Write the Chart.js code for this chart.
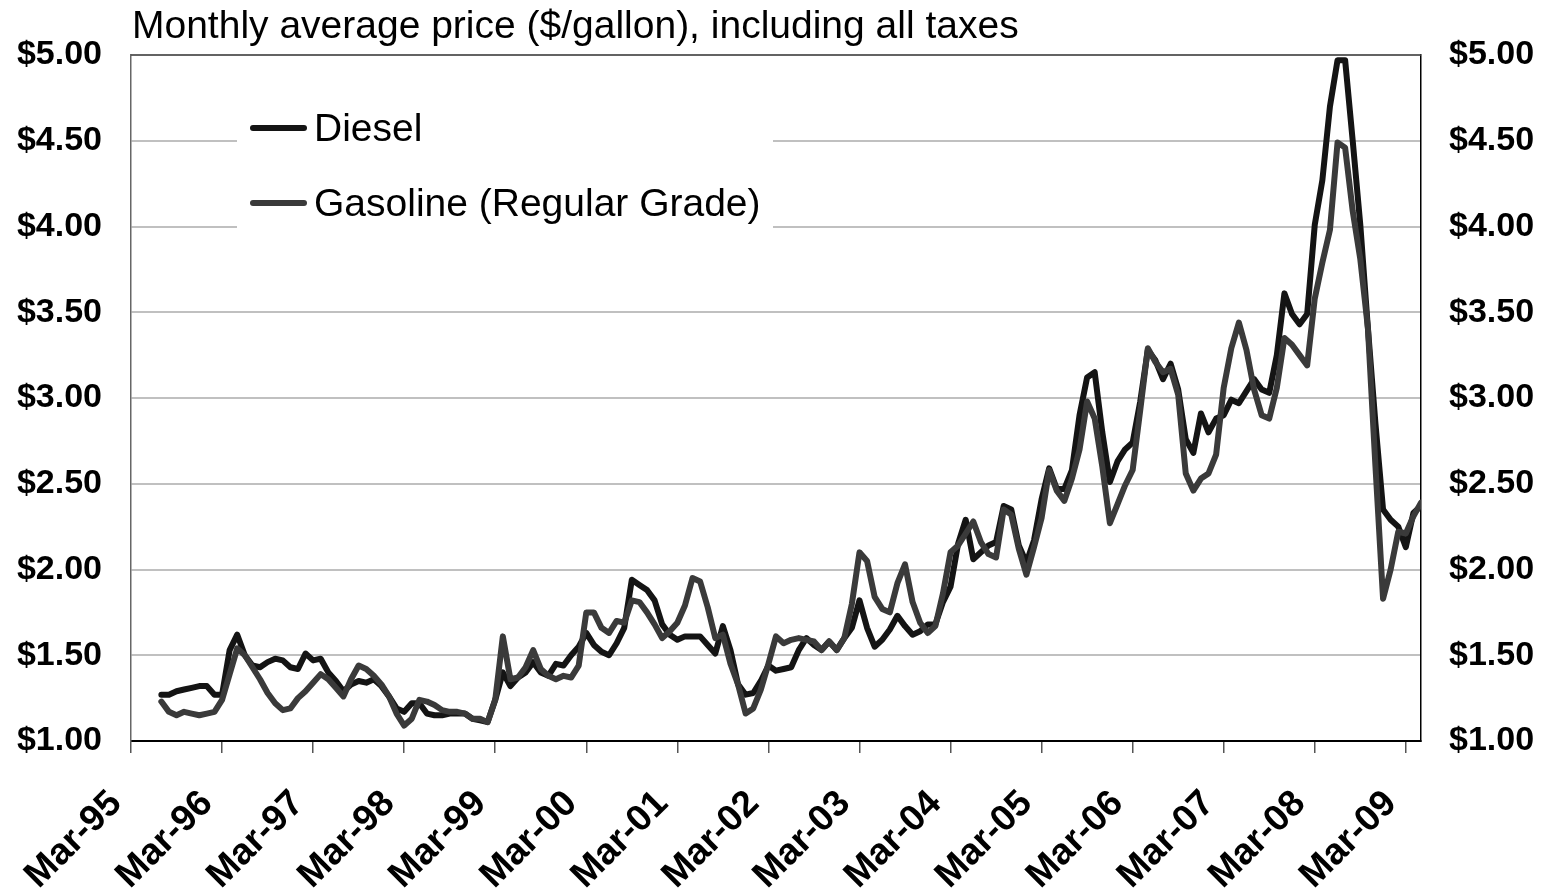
<!DOCTYPE html>
<html>
<head>
<meta charset="utf-8">
<title>Diesel and gasoline monthly prices</title>
<script src="https://cdn.jsdelivr.net/npm/chart.js@4.4.1/dist/chart.umd.min.js"></script>
<style>
  body { margin: 0; background: #fff; }
  #wrap { position: relative; width: 1547px; height: 894px; }
</style>
</head>
<body>
<div id="wrap"><canvas id="chart"></canvas></div>
<script>
// months are counted from Mar-95 (= 0), first reading is Jul-95
const firstMonth = 4
const tickLabels = ['Mar-95', 'Mar-96', 'Mar-97', 'Mar-98', 'Mar-99', 'Mar-00', 'Mar-01',
    'Mar-02', 'Mar-03', 'Mar-04', 'Mar-05', 'Mar-06', 'Mar-07', 'Mar-08', 'Mar-09']
const titleText = 'Monthly average price ($/gallon), including all taxes'

// $/gallon, one value per month (Jul-95 .. May-09)
const diesel = [
    1.27, 1.27, 1.29, 1.30, 1.31, 1.32,
    1.32, 1.27, 1.27, 1.53, 1.62, 1.50, 1.44, 1.43, 1.46, 1.48, 1.47, 1.43,
    1.42, 1.51, 1.47, 1.48, 1.40, 1.35, 1.29, 1.33, 1.35, 1.34, 1.36, 1.32,
    1.26, 1.19, 1.17, 1.22, 1.22, 1.16, 1.15, 1.15, 1.16, 1.16, 1.16, 1.13,
    1.12, 1.11, 1.24, 1.40, 1.32, 1.37, 1.40, 1.46, 1.40, 1.38, 1.45, 1.44,
    1.50, 1.55, 1.63, 1.56, 1.52, 1.50, 1.57, 1.66, 1.94, 1.91, 1.88, 1.82,
    1.68, 1.62, 1.59, 1.61, 1.61, 1.61, 1.56, 1.51, 1.67, 1.53, 1.33, 1.27,
    1.28, 1.35, 1.44, 1.41, 1.42, 1.43, 1.53, 1.60, 1.56, 1.53, 1.58, 1.53,
    1.60, 1.66, 1.82, 1.66, 1.55, 1.59, 1.65, 1.73, 1.67, 1.62, 1.64, 1.68,
    1.68, 1.81, 1.90, 2.15, 2.29, 2.06, 2.10, 2.14, 2.16, 2.37, 2.35, 2.14,
    2.04, 2.17, 2.41, 2.59, 2.47, 2.47, 2.58, 2.90, 3.12, 3.15, 2.80, 2.51,
    2.63, 2.70, 2.74, 2.98, 3.28, 3.22, 3.11, 3.20, 3.05, 2.76, 2.68, 2.91,
    2.80, 2.88, 2.90, 2.99, 2.97, 3.04, 3.11, 3.05, 3.03, 3.25, 3.61, 3.49,
    3.43, 3.49, 4.01, 4.27, 4.70, 4.97, 4.97, 4.50, 4.01, 3.41, 2.85, 2.35,
    2.29, 2.25, 2.13, 2.33, 2.37
]
const gasoline = [
    1.23, 1.17, 1.15, 1.17, 1.16, 1.15,
    1.16, 1.17, 1.24, 1.39, 1.54, 1.50, 1.43, 1.36, 1.28, 1.22, 1.18, 1.19,
    1.25, 1.29, 1.34, 1.39, 1.36, 1.31, 1.26, 1.36, 1.44, 1.42, 1.38, 1.33,
    1.26, 1.16, 1.09, 1.13, 1.24, 1.23, 1.21, 1.18, 1.17, 1.17, 1.16, 1.13,
    1.13, 1.11, 1.24, 1.61, 1.36, 1.37, 1.43, 1.53, 1.42, 1.38, 1.36, 1.38,
    1.37, 1.44, 1.75, 1.75, 1.66, 1.63, 1.70, 1.69, 1.82, 1.81, 1.75, 1.68,
    1.60, 1.64, 1.69, 1.79, 1.95, 1.93, 1.78, 1.60, 1.62, 1.45, 1.33, 1.16,
    1.19, 1.30, 1.45, 1.61, 1.57, 1.59, 1.60, 1.59, 1.58, 1.53, 1.58, 1.53,
    1.60, 1.80, 2.10, 2.05, 1.84, 1.77, 1.75, 1.92, 2.03, 1.81, 1.69, 1.63,
    1.67, 1.86, 2.10, 2.14, 2.21, 2.28, 2.16, 2.09, 2.07, 2.35, 2.32, 2.12,
    1.97, 2.13, 2.30, 2.58, 2.46, 2.40, 2.53, 2.70, 2.98, 2.88, 2.60, 2.27,
    2.38, 2.49, 2.58, 2.93, 3.29, 3.21, 3.15, 3.17, 3.02, 2.56, 2.46, 2.53,
    2.56, 2.67, 3.06, 3.29, 3.44, 3.28, 3.05, 2.90, 2.88, 3.06, 3.35, 3.31,
    3.25, 3.19, 3.58, 3.79, 3.98, 4.49, 4.46, 4.09, 3.81, 3.41, 2.60, 1.83,
    2.00, 2.22, 2.21, 2.31, 2.39
]

const fontFamily = '"Liberation Sans", Arial, sans-serif'
Chart.defaults.font.family = fontFamily

function toPoints(values) {
    return values.map((v, i) => ({ x: firstMonth + i, y: v }))
}
function dollars(v) {
    return '$' + Number(v).toFixed(2)
}

// title over the plot, legend box inside it, thin frame on top
const decor = {
    id: 'decor',
    beforeDatasetsDraw(chart) {
        const ctx = chart.ctx
        ctx.save()
        ctx.fillStyle = '#fff'
        ctx.fillRect(237, 96, 536, 140)
        chart.data.datasets.forEach((ds, i) => {
            const y = 128 + i * 75
            ctx.strokeStyle = ds.borderColor
            ctx.lineWidth = 6
            ctx.lineCap = 'round'
            ctx.beginPath()
            ctx.moveTo(253, y)
            ctx.lineTo(304, y)
            ctx.stroke()
            ctx.fillStyle = '#000'
            ctx.font = '39px ' + fontFamily
            ctx.textBaseline = 'middle'
            ctx.fillText(ds.label, 314, y + 2)
        })
        ctx.restore()
    },
    afterDraw(chart) {
        const ctx = chart.ctx
        const area = chart.chartArea
        ctx.save()
        ctx.strokeStyle = '#444'
        ctx.lineWidth = 1.5
        ctx.beginPath()
        ctx.moveTo(area.left, area.top)
        ctx.lineTo(area.right, area.top)
        ctx.stroke()
        ctx.fillStyle = '#000'
        ctx.font = '39px ' + fontFamily
        ctx.textBaseline = 'alphabetic'
        ctx.fillText(titleText, 132, 38)
        ctx.restore()
    }
}

const yTicks = {
    stepSize: 0.5,
    color: '#000',
    font: { size: 34, weight: 'bold' },
    callback: dollars
}

const config = {
    type: 'line',
    data: {
        datasets: [{
            label: 'Diesel',
            data: toPoints(diesel),
            borderColor: '#141414',
            borderWidth: 6,
            order: 1
        }, {
            label: 'Gasoline (Regular Grade)',
            data: toPoints(gasoline),
            borderColor: '#3a3a3a',
            borderWidth: 6,
            order: 0
        }]
    },
    options: {
        responsive: true,
        maintainAspectRatio: false,
        animation: false,
        layout: { padding: { top: 55 } },
        elements: {
            point: { radius: 0 },
            line: { tension: 0, borderJoinStyle: 'round', borderCapStyle: 'round' }
        },
        plugins: {
            legend: { display: false },
            tooltip: { enabled: false }
        },
        scales: {
            x: {
                type: 'linear',
                min: 0,
                max: 170,
                afterBuildTicks: s => { s.ticks = tickLabels.map((_, k) => ({ value: k * 12 })) },
                afterFit: s => { s.height = 153 },
                grid: { drawOnChartArea: false, drawTicks: true, tickLength: 12, color: '#555', lineWidth: 1.5 },
                border: { color: '#000', width: 2 },
                ticks: {
                    autoSkip: false,
                    minRotation: 45,
                    maxRotation: 45,
                    padding: 29,
                    labelOffset: -15,
                    color: '#000',
                    font: { size: 37, weight: 'bold' },
                    callback: v => tickLabels[Math.round(v / 12)]
                }
            },
            y: {
                min: 1,
                max: 5,
                afterFit: s => { s.width = 131 },
                grid: { color: '#c0c0c0', lineWidth: 2, drawTicks: false },
                border: { color: '#666', width: 1.5 },
                ticks: Object.assign({ padding: 29 }, yTicks)
            },
            y2: {
                position: 'right',
                min: 1,
                max: 5,
                afterFit: s => { s.width = 126 },
                grid: { drawOnChartArea: false, drawTicks: false },
                border: { color: '#000', width: 1.5 },
                ticks: Object.assign({ padding: 28 }, yTicks)
            }
        }
    },
    plugins: [decor]
}

let myChart = new Chart(document.getElementById('chart'), config)
</script>
</body>
</html>
